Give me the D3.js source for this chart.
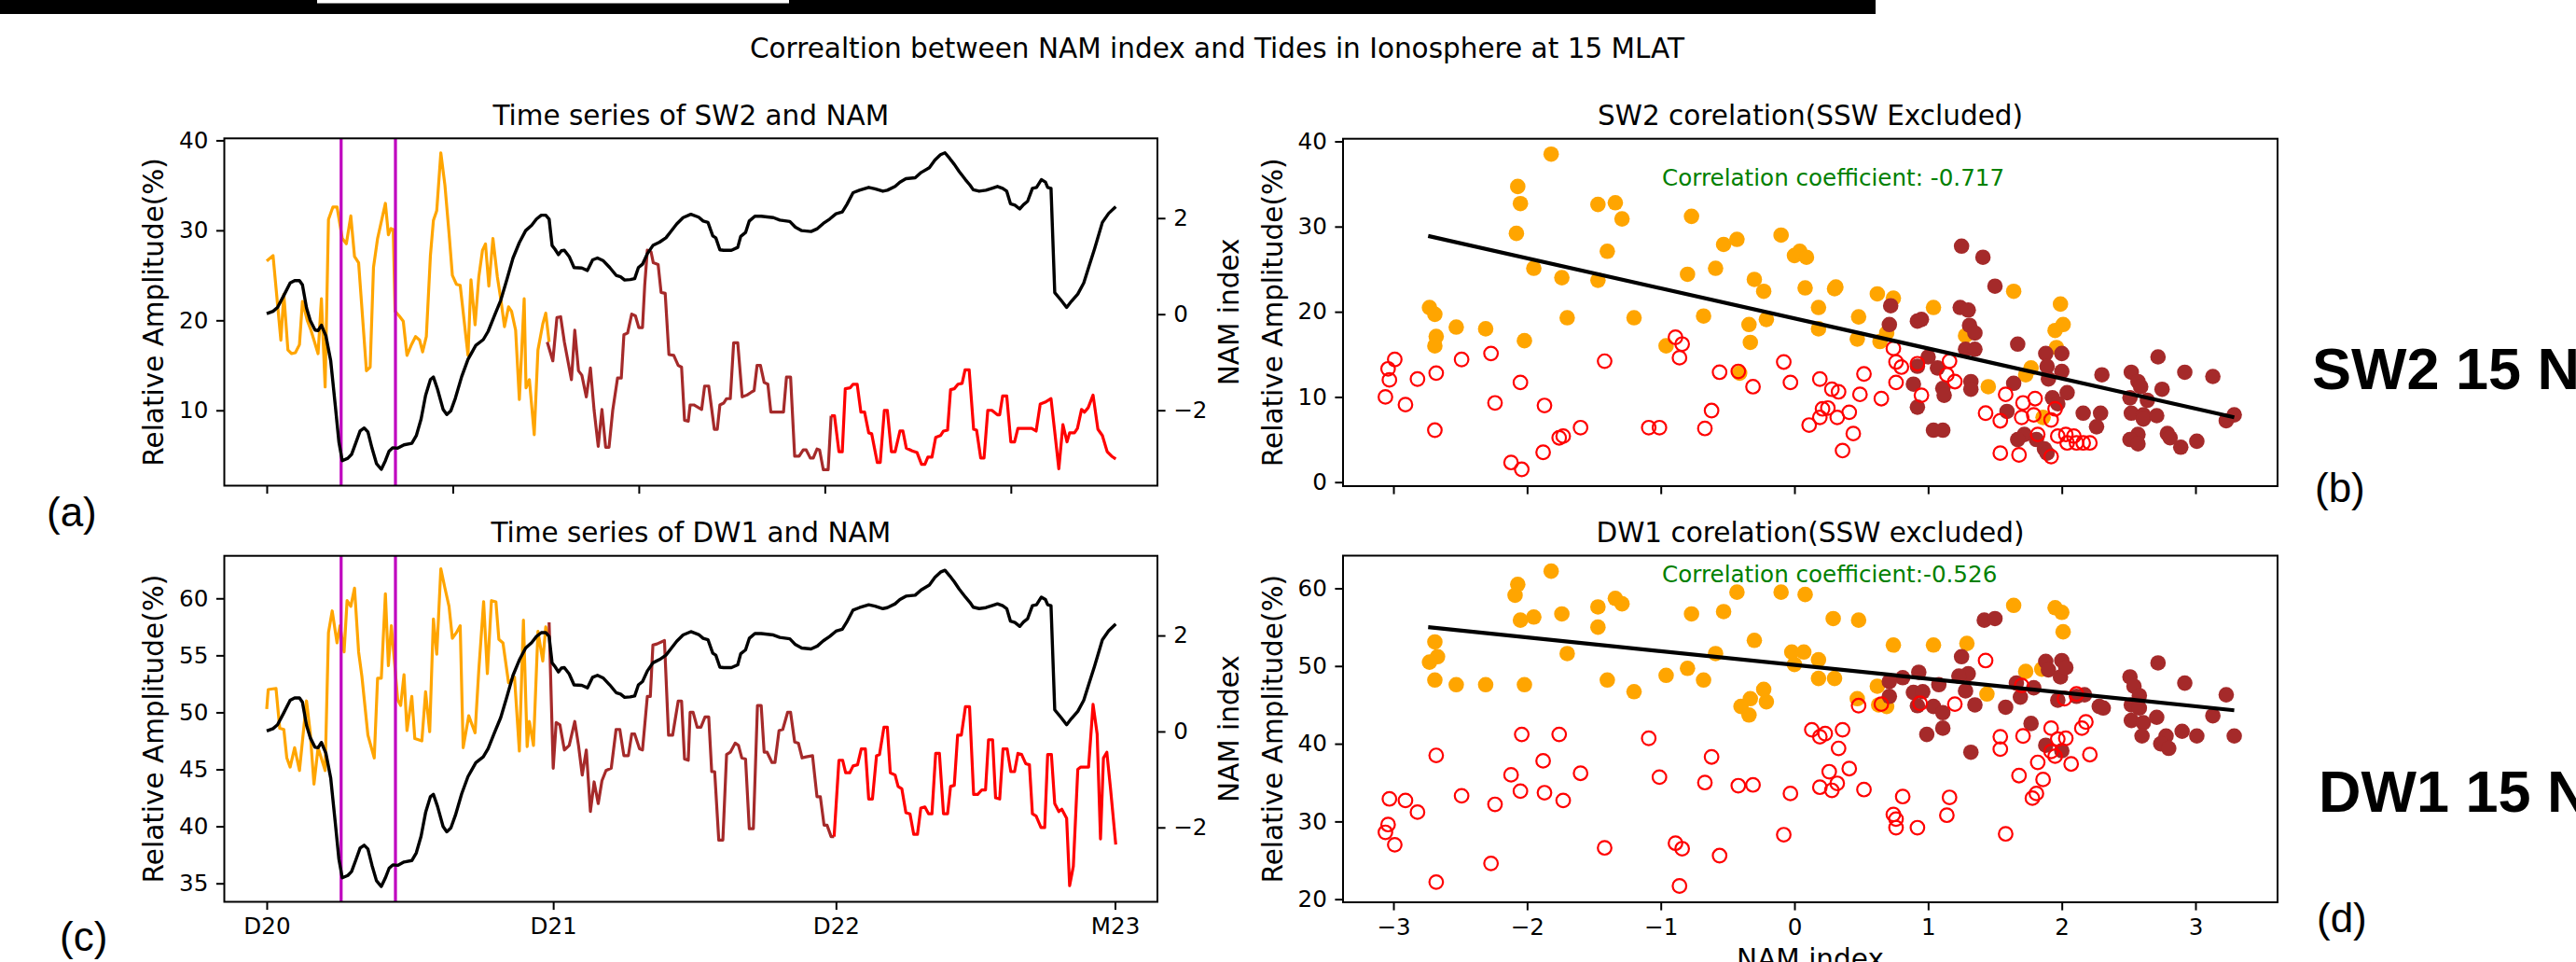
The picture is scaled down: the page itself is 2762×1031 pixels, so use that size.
<!DOCTYPE html>
<html>
<head>
<meta charset="utf-8">
<script src="https://cdn.jsdelivr.net/npm/d3@7"></script>
<style>
  body { margin: 0; background: #fff; }
  svg { display: block; }
</style>
</head>
<body>
<script>
// ---- time series, [day index, value] ----
const sw2Orange = [[0,26.6],[1.7,27.2],[3.8,17.8],[4.6,22.9],[5.7,16.7],[6.7,16.3],[7.7,16.4],[8.8,17.3],[9.6,22.1],[10.9,20.0],[11.9,18.9],[13.8,16.3],[14.7,22.4],[15.7,12.6],[16.6,31.2],[17.8,32.6],[18.9,32.6],[20.3,29.1],[21.4,28.5],[22.6,31.6],[23.6,27.1],[24.7,26.4],[26.8,14.4],[27.8,14.8],[28.7,25.9],[29.8,29.1],[31.9,33.0],[32.7,29.5],[33.4,30.2],[34.0,30.1],[34.5,21.0],[35.6,20.5],[36.7,19.9],[37.7,16.1],[38.8,17.2],[40.0,18.2],[41.1,17.8],[41.9,16.5],[42.9,18.2],[44.0,27.2],[44.8,31.1],[45.7,32.2],[46.8,38.6],[47.9,35.0],[49.0,29.7],[49.9,25.0],[51.0,24.0],[52.0,23.9],[54.1,16.1],[54.9,24.5],[56.0,19.5],[57.0,24.8],[58.0,27.8],[58.8,28.5],[59.7,23.8],[60.8,29.1],[62.0,24.8],[62.9,22.4],[63.9,19.3],[65.0,21.5],[65.8,21.0],[66.9,18.9],[67.9,11.2],[69.2,22.4],[69.7,12.5],[70.6,13.4],[71.9,7.3],[72.9,16.7],[74.2,19.6],[75.0,20.8],[75.9,17.6]];
const sw2Brown = [[75.4,17.6],[76.9,15.5],[78.0,20.3],[79.0,20.4],[80.0,17.6],[81.9,13.4],[82.8,18.9],[83.8,14.4],[84.7,13.9],[85.9,11.5],[87.0,14.7],[88.0,10.0],[89.1,6.0],[90.1,10.1],[91.1,5.9],[92.0,5.9],[93.0,10.0],[94.3,13.6],[95.3,13.6],[96.0,18.4],[97.0,18.6],[98.1,20.7],[99.1,20.5],[100.0,19.2],[101.0,19.2],[101.6,23.9],[102.3,27.8],[103.3,27.6],[103.9,26.4],[105.2,26.2],[106.0,23.1],[107.1,23.0],[108.1,16.2],[109.4,16.1],[110.6,15.0],[111.5,14.8],[112.3,8.9],[113.3,8.8],[113.8,10.6],[114.8,10.6],[116.9,10.1],[117.7,12.7],[118.8,12.7],[120.3,7.9],[121.1,7.9],[121.8,10.6],[122.8,10.8],[123.6,11.3],[124.6,11.3],[125.5,17.5],[126.6,17.5],[127.8,11.5],[129.1,11.7],[130.2,12.0],[131.0,12.2],[131.8,15.0],[132.7,15.0],[133.7,13.1],[134.7,12.9],[135.5,9.8],[138.9,9.8],[139.7,13.7],[140.8,13.7],[141.9,4.9],[143.1,4.9],[144.2,5.6],[145.0,5.6],[146.1,4.7],[146.9,4.7],[147.9,5.7],[148.6,5.6],[149.6,3.4],[150.9,3.4],[151.7,9.4]];
const sw2Red = [[151.7,9.4],[152.6,9.4],[153.8,5.4],[154.7,5.4],[155.5,12.4],[156.8,12.5],[157.6,12.9],[158.7,12.9],[159.7,9.8],[160.7,9.8],[161.8,7.5],[162.6,7.4],[164.1,4.2],[164.9,4.2],[166.0,10.0],[166.8,10.0],[167.9,5.4],[168.9,5.4],[170.2,7.7],[171.0,7.7],[171.9,5.8],[173.5,5.5],[174.8,5.3],[176.0,4.0],[176.9,4.0],[177.7,4.8],[178.8,4.8],[179.8,7.0],[181.1,7.2],[181.9,7.7],[183.0,7.8],[183.8,12.3],[184.8,12.4],[185.8,12.9],[186.9,13.0],[187.7,14.5],[188.8,14.5],[190.0,7.9],[190.8,7.8],[191.9,4.7],[192.8,4.7],[193.8,10.0],[194.9,10.0],[196.4,9.5],[197.0,9.5],[197.8,11.6],[198.9,11.6],[200.0,6.5],[201.0,6.5],[201.9,8.0],[205.6,8.0],[206.8,7.7],[207.9,10.7],[209.2,10.9],[210.8,11.3],[211.7,8.0],[212.9,3.5],[214.0,8.4],[215.1,6.5],[215.8,7.5],[217.1,7.5],[217.9,8.0],[219.0,10.1],[219.8,9.8],[220.8,10.3],[222.1,11.7],[223.4,7.9],[224.6,7.2],[225.9,5.4],[227.1,4.9],[228.2,4.6]];

const dw1Orange = [[0,50.3],[0.4,52.0],[2.5,52.1],[3.5,48.6],[4.6,48.5],[5.4,46.0],[6.3,45.2],[7.5,46.9],[8.8,44.9],[10.7,51.0],[11.7,48.2],[12.7,43.7],[13.8,46.9],[15.7,44.9],[16.6,57.0],[17.6,58.9],[18.9,56.1],[19.7,57.6],[20.8,55.3],[21.6,59.8],[22.6,59.3],[23.6,60.9],[24.7,55.3],[25.6,53.1],[27.2,48.0],[28.9,46.0],[29.8,53.0],[30.8,53.0],[31.9,60.4],[32.7,54.1],[33.5,57.6],[34.4,54.2],[35.2,51.1],[36.0,50.6],[36.9,53.3],[37.7,48.4],[39.0,51.4],[39.8,47.7],[41.7,47.5],[42.7,51.8],[43.8,48.3],[44.8,58.2],[45.7,55.1],[46.8,62.6],[47.9,60.9],[49.0,59.3],[49.9,56.5],[51.0,57.0],[52.0,57.6],[52.8,46.9],[54.3,49.7],[56.0,48.2],[57.0,53.7],[58.3,59.7],[59.3,53.4],[60.4,59.8],[61.6,59.7],[62.4,56.4],[63.5,56.1],[65.0,52.6],[66.6,53.1],[67.9,46.6],[69.0,58.1],[70.0,47.0],[70.6,49.2],[71.7,47.1],[72.9,57.1],[74.2,54.5],[75.0,57.5],[75.6,56.8]];
const dw1Brown = [[75.9,57.9],[77.0,45.1],[77.8,49.1],[78.8,48.9],[80.0,46.7],[81.3,47.1],[82.8,49.2],[83.8,47.1],[84.8,44.5],[85.9,46.7],[87.0,41.3],[88.0,43.9],[89.1,42.0],[90.1,44.0],[91.2,44.9],[92.6,45.1],[93.9,48.5],[94.9,48.5],[96.0,46.2],[97.2,46.2],[98.1,48.1],[98.9,48.1],[100.2,46.8],[101.0,46.7],[102.3,51.4],[103.1,51.4],[103.8,55.9],[104.9,56.0],[106.9,56.3],[108.0,48.0],[109.1,48.0],[110.6,51.0],[111.5,51.0],[112.3,45.9],[113.3,45.8],[113.8,50.0],[114.6,50.0],[115.7,48.7],[116.7,48.7],[117.8,49.6],[118.8,49.6],[119.6,44.8],[120.4,44.8],[121.5,38.8],[122.6,38.8],[123.6,46.3],[124.6,46.5],[125.9,47.3],[126.8,47.1],[127.7,46.0],[128.7,45.9],[129.7,39.8],[130.8,39.8],[131.9,50.6],[132.9,50.6],[133.7,46.5],[134.5,46.5],[135.8,45.6],[136.6,45.6],[137.7,48.4],[138.7,48.5],[140.0,50.0],[140.8,50.0],[141.9,47.4],[142.9,47.3],[143.9,46.0],[145.0,46.1],[146.7,46.2],[147.9,42.6],[148.8,42.6],[149.8,40.1],[150.6,40.1],[151.7,39.1],[152.5,39.1]];
const dw1Red = [[152.5,39.1],[153.8,45.8],[154.8,45.8],[155.6,44.7],[156.7,44.7],[157.6,45.3],[158.8,45.4],[159.8,46.8],[160.9,46.8],[161.8,42.4],[162.8,42.4],[163.9,46.2],[164.7,46.3],[165.9,48.7],[166.8,48.7],[167.6,44.7],[168.9,44.5],[169.7,43.5],[170.7,43.3],[171.8,41.2],[172.9,41.1],[173.9,39.3],[174.9,39.3],[175.8,41.6],[176.9,41.7],[177.9,41.1],[178.8,41.1],[179.8,46.4],[180.8,46.4],[181.9,41.1],[183.0,41.1],[183.8,43.5],[184.8,43.6],[185.7,48.0],[186.7,48.0],[187.8,50.5],[188.9,50.5],[190.0,42.8],[191.1,42.8],[192.2,43.2],[193.2,43.2],[194.0,47.6],[195.1,47.6],[195.9,42.5],[197.0,42.4],[197.9,46.8],[199.0,46.8],[200.0,44.8],[201.0,44.8],[201.9,46.4],[202.9,46.3],[204.0,45.5],[205.0,45.4],[205.8,41.1],[206.8,40.9],[208.1,39.9],[209.1,39.9],[209.9,46.3],[210.9,46.3],[211.8,42.0],[212.9,41.3],[213.7,41.5],[215.0,40.7],[215.8,34.8],[216.8,36.5],[218.0,45.0],[218.8,45.2],[220.9,45.2],[222.1,50.7],[223.2,48.1],[224.1,38.9],[224.9,46.0],[225.8,46.5],[226.8,43.3],[228.2,38.4]];

const namIndex = [[0,0.01],[1.7,0.06],[2.9,0.14],[4.6,0.39],[6.3,0.65],[7.5,0.70],[8.8,0.70],[9.6,0.61],[10.7,0.13],[11.7,-0.13],[13.0,-0.33],[13.8,-0.34],[14.7,-0.23],[15.9,-0.45],[17.2,-0.97],[18.4,-1.88],[19.4,-2.66],[20.3,-3.05],[21.8,-3.0],[22.8,-2.92],[23.9,-2.69],[25.1,-2.43],[26.2,-2.37],[27.2,-2.45],[28.3,-2.79],[29.5,-3.11],[30.8,-3.23],[31.9,-3.05],[32.9,-2.85],[33.9,-2.78],[35.2,-2.79],[36.9,-2.72],[39.0,-2.69],[40.2,-2.53],[41.5,-2.18],[42.7,-1.69],[44.0,-1.36],[44.8,-1.31],[45.9,-1.56],[47.4,-1.98],[48.4,-2.09],[49.5,-2.01],[50.7,-1.75],[52.4,-1.30],[54.1,-0.94],[56.2,-0.65],[58.2,-0.53],[59.5,-0.36],[61.2,-0.03],[62.9,0.29],[64.5,0.71],[66.2,1.17],[67.9,1.49],[69.6,1.74],[71.2,1.85],[72.5,1.98],[73.8,2.06],[75.0,2.06],[75.9,1.98],[76.7,1.43],[77.5,1.35],[78.4,1.24],[79.2,1.32],[80.0,1.33],[81.3,1.20],[82.6,0.97],[84.7,0.96],[86.2,0.91],[87.6,1.13],[88.9,1.17],[90.5,1.11],[92.2,0.97],[93.9,0.81],[95.1,0.78],[96.2,0.71],[97.7,0.72],[98.9,0.74],[99.9,0.97],[101.0,1.04],[102.3,1.26],[103.8,1.43],[105.6,1.50],[107.3,1.59],[108.6,1.72],[110.2,1.88],[111.9,2.01],[114.0,2.08],[116.1,2.02],[117.3,1.94],[118.6,1.91],[119.9,1.63],[120.7,1.59],[121.8,1.34],[122.8,1.33],[124.9,1.33],[126.6,1.39],[127.4,1.62],[128.7,1.70],[129.7,1.94],[131.2,2.04],[132.9,2.04],[136.2,2.01],[137.9,1.96],[140.6,1.93],[142.1,1.81],[143.8,1.74],[146.3,1.72],[148.0,1.78],[149.6,1.89],[151.3,1.98],[153.0,2.09],[154.7,2.13],[155.9,2.28],[157.6,2.53],[159.3,2.58],[161.8,2.64],[163.5,2.61],[165.6,2.56],[166.8,2.58],[168.9,2.66],[170.2,2.75],[171.8,2.82],[174.3,2.84],[175.9,2.95],[178.1,3.05],[179.6,3.21],[181.1,3.32],[182.3,3.36],[183.6,3.24],[184.8,3.12],[186.1,2.97],[187.8,2.80],[189.0,2.69],[189.9,2.59],[191.5,2.56],[193.3,2.58],[194.9,2.62],[196.4,2.66],[197.8,2.62],[198.9,2.56],[199.9,2.30],[201.1,2.27],[202.4,2.19],[203.4,2.28],[204.5,2.35],[205.8,2.62],[206.9,2.64],[208.2,2.80],[209.3,2.75],[209.9,2.64],[210.8,2.62],[211.8,0.45],[213.5,0.29],[215.0,0.14],[216.3,0.27],[218.0,0.42],[219.6,0.65],[220.9,0.97],[222.5,1.36],[224.6,1.91],[226.3,2.10],[228.2,2.24]];

const sswDays = [20, 34.6];
const dayTicks = [0, 50, 100, 150, 200];
const winterTicks = [0, 77, 153, 228];
const winterLabels = ["D20", "D21", "D22", "M23"];
const namTicks = [-3, -2, -1, 0, 1, 2, 3];

// ---- scatter, [NAM index, relative amplitude] ----
const sw2Win1 = [[-1.82,38.5],[-2.07,34.7],[-2.05,32.7],[-2.08,29.2],[-1.47,32.6],[-1.34,32.8],[-1.29,30.9],[-0.77,31.2],[-1.40,27.1],[-1.95,25.1],[-1.74,24.0],[-1.47,23.7],[-0.80,24.4],[-0.59,25.1],[-0.53,27.9],[-0.43,28.5],[-0.10,29.0],[0.00,26.6],[0.04,27.1],[0.09,26.4],[-0.30,23.8],[-0.23,22.4],[0.08,22.8],[-2.73,20.5],[-2.69,19.7],[-2.53,18.2],[-2.31,18.0],[-2.68,17.1],[-2.69,16.0],[-2.02,16.6],[-1.70,19.3],[-1.20,19.3],[-0.68,19.5],[-0.34,18.5],[-0.21,19.1],[-0.33,16.4],[-0.96,16.0],[-0.41,12.8],[0.30,22.7],[0.31,22.9],[0.18,20.5],[0.18,18.0],[0.48,19.4],[0.47,16.8],[0.62,22.1],[0.74,21.6],[0.64,16.5],[0.69,17.5],[1.04,20.5],[1.28,17.2],[1.64,22.4],[1.99,20.9],[1.95,17.8],[2.01,18.5],[1.96,15.8],[1.77,13.4],[1.73,12.6],[1.45,11.2],[1.86,7.6]];
const sw2Win2 = [[1.25,27.7],[1.41,26.4],[1.50,23.0],[0.72,20.7],[0.71,18.5],[0.92,18.9],[0.95,19.1],[1.24,20.5],[1.30,20.2],[1.31,18.4],[1.35,17.5],[1.28,15.6],[1.35,15.6],[1.67,16.2],[1.00,14.7],[0.92,13.6],[1.07,13.4],[0.89,11.5],[0.92,8.8],[1.11,11.0],[1.12,10.2],[1.32,11.8],[1.32,10.9],[1.04,6.1],[1.11,6.1],[1.64,11.6],[1.88,15.1],[2.00,15.1],[1.89,13.6],[2.00,13.0],[1.90,12.1],[1.93,9.9],[1.97,9.2],[2.04,10.5],[1.59,8.3],[1.72,5.6],[1.67,5.0],[1.81,5.0],[1.87,3.9],[1.89,3.4],[2.16,8.1],[2.29,8.1],[2.26,6.5],[2.30,12.6],[2.52,12.9],[2.57,11.8],[2.59,11.2],[2.51,9.9],[2.64,9.6],[2.52,8.1],[2.61,7.9],[2.61,7.4],[2.71,7.8],[2.75,10.9],[2.72,14.7],[2.92,12.9],[3.13,12.4],[2.57,5.6],[2.51,5.0],[2.57,4.5],[2.79,5.7],[2.89,4.1],[3.01,4.8],[3.23,7.2],[3.29,7.9],[2.81,5.2]];
const sw2Open = [[-2.99,14.4],[-3.04,13.3],[-3.03,12.0],[-3.06,10.0],[-2.91,9.1],[-2.82,12.1],[-2.68,12.8],[-2.49,14.4],[-2.27,15.1],[-2.69,6.1],[-2.24,9.3],[-2.05,11.7],[-1.87,9.0],[-2.12,2.3],[-2.04,1.5],[-1.88,3.5],[-1.76,5.2],[-1.73,5.4],[-1.60,6.4],[-1.42,14.2],[-1.09,6.4],[-1.01,6.4],[-0.89,17.0],[-0.84,16.2],[-0.86,14.6],[-0.67,6.3],[-0.62,8.4],[-0.56,12.9],[-0.42,13.0],[-0.31,11.2],[-0.08,14.1],[-0.03,11.7],[0.11,6.7],[0.19,12.1],[0.28,10.9],[0.33,10.6],[0.21,8.6],[0.25,8.7],[0.19,7.6],[0.32,7.6],[0.41,8.2],[0.44,5.7],[0.36,3.7],[0.52,12.7],[0.49,10.3],[0.65,9.8],[0.74,15.7],[0.76,14.1],[0.80,13.5],[0.76,11.7],[0.92,13.9],[0.95,10.2],[1.16,14.2],[1.14,12.6],[1.20,11.8],[1.58,10.3],[1.43,8.1],[1.54,7.2],[1.71,9.3],[1.80,9.8],[1.70,7.6],[1.79,7.9],[1.95,8.6],[1.92,7.3],[1.82,5.6],[1.54,3.4],[1.68,3.2],[1.92,3.0],[1.97,5.4],[2.03,5.6],[2.04,4.6],[2.09,5.4],[2.11,4.6],[2.16,4.6],[2.21,4.6]];

const dw1Win1 = [[-1.82,62.2],[-2.07,60.5],[-2.09,59.1],[-2.05,55.9],[-1.95,56.3],[-1.74,56.7],[-1.47,57.6],[-1.34,58.7],[-1.29,58.0],[-1.47,55.0],[-1.70,51.6],[-2.69,53.1],[-2.67,51.2],[-2.73,50.5],[-2.69,48.2],[-2.53,47.6],[-2.31,47.6],[-2.02,47.6],[-1.40,48.2],[-1.20,46.7],[-0.96,48.8],[-0.80,49.7],[-0.68,48.2],[-0.77,56.7],[-0.53,57.0],[-0.43,59.5],[-0.10,59.5],[0.08,59.2],[-0.30,53.3],[-0.59,51.6],[-0.02,51.8],[0.07,51.8],[0.00,50.2],[-0.23,47.0],[-0.21,45.4],[-0.33,45.8],[-0.40,44.8],[-0.34,43.7],[0.29,56.1],[0.48,55.9],[0.74,52.7],[1.04,52.7],[1.29,52.9],[1.64,57.8],[1.95,57.5],[2.00,56.9],[2.01,54.4],[0.18,50.8],[0.18,48.4],[0.30,48.4],[0.47,45.8],[0.62,47.4],[0.69,44.8],[0.63,45.0],[1.44,46.4],[1.73,49.3],[1.85,49.6]];
const dw1Win2 = [[1.42,55.9],[1.50,56.1],[1.25,51.2],[1.30,49.0],[1.23,48.7],[0.93,49.2],[0.81,48.5],[0.71,48.0],[0.89,46.6],[0.96,46.7],[1.08,47.6],[0.92,44.9],[0.71,46.1],[1.04,44.8],[1.11,44.0],[1.11,42.0],[0.99,41.2],[1.32,38.9],[1.28,46.8],[1.35,45.0],[1.66,47.8],[1.69,46.0],[1.58,44.7],[1.79,47.2],[1.77,42.6],[1.88,50.6],[2.00,50.7],[1.90,49.5],[1.99,48.6],[2.03,49.8],[1.97,45.6],[2.11,46.1],[2.17,46.3],[2.28,44.8],[2.31,44.6],[1.88,39.8],[2.00,39.1],[2.51,48.6],[2.54,47.4],[2.58,46.2],[2.52,45.0],[2.58,44.6],[2.52,43.0],[2.61,42.7],[2.71,43.4],[2.60,41.0],[2.72,50.4],[2.92,47.8],[3.23,46.3],[3.13,43.6],[2.90,41.6],[3.01,41.0],[2.78,41.0],[2.74,40.0],[2.80,39.4],[3.29,41.0]];
const dw1Open = [[-2.04,41.2],[-1.76,41.2],[-1.09,40.7],[-2.68,38.5],[-1.88,37.8],[-2.12,36.0],[-1.60,36.2],[-0.62,38.3],[-1.01,35.7],[-0.67,35.0],[-0.42,34.6],[-0.31,34.7],[-0.03,33.6],[-3.03,32.9],[-2.91,32.7],[-2.82,31.2],[-2.49,33.3],[-2.24,32.2],[-2.05,33.9],[-1.87,33.7],[-1.73,32.7],[-3.04,29.6],[-3.06,28.6],[-2.99,27.0],[-1.42,26.6],[-0.89,27.2],[-0.84,26.5],[-0.56,25.6],[-0.08,28.3],[-2.27,24.6],[-2.68,22.2],[-0.86,21.7],[1.43,50.7],[0.48,44.9],[0.65,45.1],[0.94,45.2],[1.20,45.1],[1.70,47.5],[2.11,46.4],[2.02,45.8],[0.13,41.8],[0.19,40.9],[0.23,41.3],[0.36,41.8],[0.33,39.4],[0.26,36.4],[0.41,36.8],[0.19,34.4],[0.28,34.0],[0.32,34.9],[0.52,34.1],[0.81,33.2],[0.74,30.9],[0.76,30.3],[0.76,29.2],[0.92,29.2],[1.16,33.1],[1.14,30.8],[1.58,28.4],[1.54,40.9],[1.54,39.3],[1.71,41.0],[1.92,42.0],[1.97,40.6],[2.03,40.7],[1.92,39.0],[1.95,38.4],[2.15,42.0],[2.18,42.8],[2.21,38.6],[2.07,37.4],[1.82,37.6],[1.68,35.9],[1.86,35.4],[1.81,33.6],[1.78,33.0]];

// regression line end points
const sw2Fit = [[-2.74, 28.9], [3.29, 7.6]];
const dw1Fit = [[-2.74, 55.0], [3.29, 44.3]];

// ---- svg ----
var w = 2762, h = 1031;
var svg = d3.select("body")
  .append("svg")
  .attr("width", w)
  .attr("height", h)
  .style("font-family", "'DejaVu Sans', sans-serif");

// cut-off banner at the very top
svg.append("rect").attr("x", 0).attr("y", 0).attr("width", 2011).attr("height", 15).attr("fill", "#000");
svg.append("rect").attr("x", 340).attr("y", 0).attr("width", 506).attr("height", 3.5).attr("fill", "#fff");

svg.append("text")
  .attr("x", 1305).attr("y", 62)
  .attr("text-anchor", "middle")
  .style("font-size", "29.5px")
  .text("Correaltion between NAM index and Tides in Ionosphere at 15 MLAT");

// plot boxes
var boxA = {l: 240.5, r: 1241, t: 148.3, b: 520.5};
var boxC = {l: 240.5, r: 1241, t: 595.7, b: 966.5};
var boxB = {l: 1440, r: 2442, t: 148.7, b: 521};
var boxD = {l: 1440, r: 2442, t: 595.5, b: 967};

function styleAxis(g) {
  g.select(".domain").remove();
  g.attr("font-family", null).attr("font-size", null);
  g.selectAll(".tick line").attr("stroke", "#000").attr("stroke-width", 2);
  g.selectAll(".tick text").attr("fill", "#000").style("font-size", "24.6px");
}

function frame(box) {
  svg.append("rect")
    .attr("x", box.l).attr("y", box.t)
    .attr("width", box.r - box.l).attr("height", box.b - box.t)
    .attr("fill", "none").attr("stroke", "#000").attr("stroke-width", 2);
}

function title(box, txt) {
  svg.append("text")
    .attr("x", (box.l + box.r) / 2).attr("y", box.t - 14.8)
    .attr("text-anchor", "middle")
    .style("font-size", "29.5px")
    .text(txt);
}

function yLabel(x, y, txt) {
  svg.append("text")
    .attr("transform", "translate(" + x + "," + y + ") rotate(-90)")
    .attr("text-anchor", "middle")
    .style("font-size", "29.5px")
    .text(txt);
}

// ---- time series panels ----
function seriesPanel(box, yDom, namDom, yTicks, orange, brown, red, showDates, ttl) {
  var x = d3.scaleLinear().domain([-11.4, 239.4]).range([box.l, box.r]);
  var y = d3.scaleLinear().domain(yDom).range([box.b, box.t]);
  var yN = d3.scaleLinear().domain(namDom).range([box.b, box.t]);

  var line = d3.line().x(d => x(d[0])).y(d => y(d[1]));
  var nLine = d3.line().x(d => x(d[0])).y(d => yN(d[1]));

  [[orange, "#FFA500"], [brown, "#A52A2A"], [red, "#FF0000"]].forEach(function(s) {
    svg.append("path")
      .datum(s[0])
      .attr("d", line)
      .attr("fill", "none")
      .attr("stroke", s[1])
      .attr("stroke-width", 3.2)
      .attr("stroke-linejoin", "round");
  });

  svg.append("g")
    .selectAll("line")
    .data(sswDays)
    .enter()
    .append("line")
    .attr("x1", d => x(d)).attr("x2", d => x(d))
    .attr("y1", box.t).attr("y2", box.b)
    .attr("stroke", "#BF00BF")
    .attr("stroke-width", 3.2);

  svg.append("path")
    .datum(namIndex)
    .attr("d", nLine)
    .attr("fill", "none")
    .attr("stroke", "#000")
    .attr("stroke-width", 3.4)
    .attr("stroke-linejoin", "round");

  var xAxis = d3.axisBottom(x).tickSize(8.6).tickPadding(8.6);
  if (showDates) {
    xAxis.tickValues(winterTicks).tickFormat((d, i) => winterLabels[i]);
  } else {
    xAxis.tickValues(dayTicks).tickFormat("");
  }
  svg.append("g").attr("transform", "translate(0," + box.b + ")").call(xAxis).call(styleAxis);

  svg.append("g").attr("transform", "translate(" + box.l + ",0)")
    .call(d3.axisLeft(y).tickValues(yTicks).tickFormat(d3.format("d")).tickSize(8.6).tickPadding(8.6))
    .call(styleAxis);

  svg.append("g").attr("transform", "translate(" + box.r + ",0)")
    .call(d3.axisRight(yN).tickValues([-2, 0, 2]).tickFormat(d3.format("d")).tickSize(8.6).tickPadding(8.6))
    .call(styleAxis);

  frame(box);
  title(box, ttl);
  yLabel(175, (box.t + box.b) / 2, "Relative Amplitude(%)");
  svg.append("text")
    .attr("transform", "translate(1328," + ((box.t + box.b) / 2) + ") rotate(-90)")
    .attr("text-anchor", "middle")
    .style("font-size", "29.5px")
    .text("NAM index");
}

seriesPanel(boxA, [1.63, 40.22], [-3.57, 3.66], [10, 20, 30, 40], sw2Orange, sw2Brown, sw2Red, false, "Time series of SW2 and NAM");
seriesPanel(boxC, [33.38, 63.73], [-3.55, 3.66], [35, 40, 45, 50, 55, 60], dw1Orange, dw1Brown, dw1Red, true, "Time series of DW1 and NAM");

// ---- scatter panels ----
function scatterPanel(box, yDom, yTicks, win1, win2, open, fit, coefText, coefY, showX, ttl) {
  var x = d3.scaleLinear().domain([-3.377, 3.614]).range([box.l, box.r]);
  var y = d3.scaleLinear().domain(yDom).range([box.b, box.t]);

  svg.append("g").selectAll("circle")
    .data(win1).enter().append("circle")
    .attr("cx", d => x(d[0])).attr("cy", d => y(d[1])).attr("r", 8.3)
    .attr("fill", "#FFA500");

  svg.append("g").selectAll("circle")
    .data(win2).enter().append("circle")
    .attr("cx", d => x(d[0])).attr("cy", d => y(d[1])).attr("r", 8.3)
    .attr("fill", "#A52A2A");

  svg.append("g").selectAll("circle")
    .data(open).enter().append("circle")
    .attr("cx", d => x(d[0])).attr("cy", d => y(d[1])).attr("r", 7.3)
    .attr("fill", "none").attr("stroke", "#FF0000").attr("stroke-width", 2.2);

  svg.append("path")
    .datum(fit)
    .attr("d", d3.line().x(d => x(d[0])).y(d => y(d[1])))
    .attr("stroke", "#000").attr("stroke-width", 4.2);

  svg.append("text")
    .attr("x", x(-0.99)).attr("y", y(coefY))
    .attr("fill", "#008000")
    .style("font-size", "24.6px")
    .text(coefText);

  var xAxis = d3.axisBottom(x).tickValues(namTicks).tickSize(8.6).tickPadding(8.6);
  xAxis.tickFormat(showX ? d3.format("d") : "");
  svg.append("g").attr("transform", "translate(0," + box.b + ")").call(xAxis).call(styleAxis);

  svg.append("g").attr("transform", "translate(" + box.l + ",0)")
    .call(d3.axisLeft(y).tickValues(yTicks).tickFormat(d3.format("d")).tickSize(8.6).tickPadding(8.6))
    .call(styleAxis);

  frame(box);
  title(box, ttl);
  yLabel(1375, (box.t + box.b) / 2, "Relative Amplitude(%)");
}

scatterPanel(boxB, [-0.47, 40.31], [0, 10, 20, 30, 40], sw2Win1, sw2Win2, sw2Open, sw2Fit,
  "Correlation coefficient: -0.717", 34.83, false, "SW2 corelation(SSW Excluded)");
scatterPanel(boxD, [19.6, 64.2], [20, 30, 40, 50, 60], dw1Win1, dw1Win2, dw1Open, dw1Fit,
  "Correlation coefficient:-0.526", 60.76, true, "DW1 corelation(SSW excluded)");

svg.append("text")
  .attr("x", (boxD.l + boxD.r) / 2).attr("y", 1038)
  .attr("text-anchor", "middle")
  .style("font-size", "29.5px")
  .text("NAM index");

// panel letters and side labels (added outside matplotlib, Arial-like)
var letters = [["(a)", 50, 564], ["(b)", 2482, 538], ["(c)", 64, 1019], ["(d)", 2484, 999]];
svg.append("g").selectAll("text")
  .data(letters).enter().append("text")
  .attr("x", d => d[1]).attr("y", d => d[2])
  .style("font-family", "'Liberation Sans', Arial, sans-serif")
  .style("font-size", "44px")
  .text(d => d[0]);

var sideLabels = [["SW2 15 N", 2479, 417], ["DW1 15 N", 2486, 870]];
svg.append("g").selectAll("text")
  .data(sideLabels).enter().append("text")
  .attr("x", d => d[1]).attr("y", d => d[2])
  .style("font-family", "'Liberation Sans', Arial, sans-serif")
  .style("font-weight", "bold")
  .style("font-size", "63px")
  .text(d => d[0]);
</script>
</body>
</html>
